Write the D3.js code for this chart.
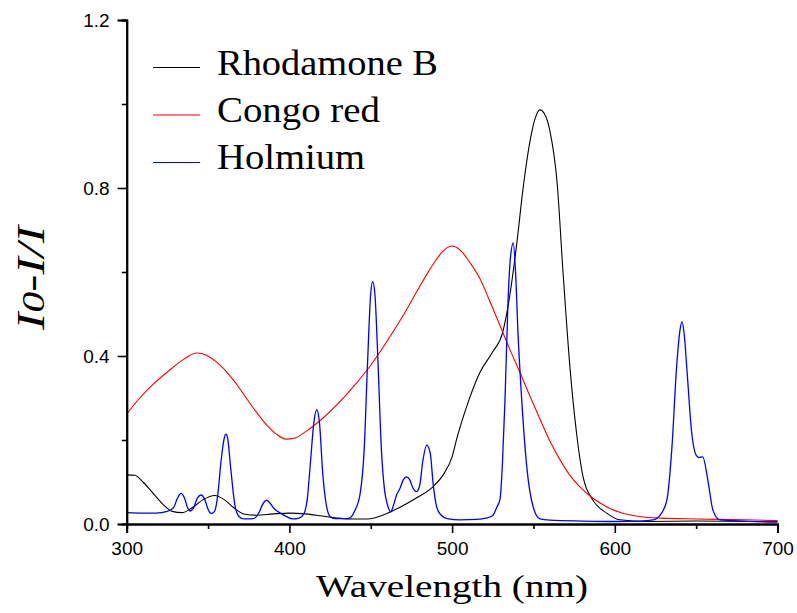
<!DOCTYPE html>
<html>
<head>
<meta charset="utf-8">
<script src="https://cdn.jsdelivr.net/npm/d3@7"></script>
<style>
  html, body { margin: 0; padding: 0; background: #fff; }
  svg { display: block; }
  .serif { font-family: "Liberation Serif", "Times New Roman", Tinos, Times, serif; }
  .sans { font-family: "Liberation Sans", Arial, Arimo, Helvetica, sans-serif; }
</style>
</head>
<body>
<svg id="chart" width="797" height="613"></svg>
<script>
// ---- Data (wavelength nm, value) ----
const rhodamineWl = [300,305,310,316,322,328,334,340,347,354,360,366,372,380,390,400,410,420,430,440,448,458,468,478,488,495,500,503,509,517,525,531,535,540,543.5,548,551,554,557,560,564.6,568,572.5,576.5,580.5,586.5,595,603,620,650,700];
const rhodamineVal = [0.117,0.116,0.100,0.074,0.048,0.030,0.027,0.038,0.058,0.068,0.058,0.038,0.024,0.021,0.024,0.026,0.024,0.019,0.014,0.012,0.012,0.022,0.040,0.062,0.088,0.120,0.160,0.205,0.280,0.360,0.410,0.455,0.533,0.676,0.795,0.914,0.965,0.986,0.975,0.938,0.810,0.610,0.370,0.216,0.112,0.057,0.026,0.010,0.006,0.007,0.005];

const congoWl = [300,308,316,325,335,343,349,356,363,369,374,379,385,392,398,403,410,420,430,440,450,460,470,480,485,490,494,497,499.5,502,506,511,517,523,529.5,535,541.8,548,554,560,566,572,578.7,585,591,597,603,615,628,650,680,700];
const congoVal = [0.262,0.300,0.332,0.362,0.392,0.407,0.402,0.383,0.355,0.325,0.297,0.270,0.240,0.214,0.202,0.204,0.220,0.250,0.287,0.330,0.378,0.435,0.497,0.565,0.598,0.628,0.648,0.658,0.662,0.660,0.648,0.622,0.585,0.532,0.472,0.420,0.360,0.303,0.250,0.198,0.155,0.118,0.088,0.066,0.050,0.037,0.028,0.018,0.014,0.012,0.010,0.008];

const holmiumWl = [300,310,318,325,329,331,333.4,335.5,337.5,339,341,343.5,345.7,348,350,352,354,356,358,360,361,362,364,366.5,369,372,378,381,384,386,388,391,394,398,402,406,409,411,413,415,416.8,418.5,420.5,422.5,425,428,436,440,443.5,446,448,450,451.2,452.5,454.5,456.5,458.5,460,462.3,464,466,468,470,472,474,476,478,480,482,484.4,486.5,488.5,490.5,493,497,505,515,521,525,527.5,529.5,531,532.5,534.4,536,537.6,539,540.5,542.8,545.9,549.8,554,560,580,600,615,623.6,628,632,635,638,640,641.3,642.7,644.2,647.3,650.3,652,654,657.5,660.3,664.6,680,700];
const holmiumVal = [0.027,0.026,0.026,0.030,0.040,0.060,0.073,0.062,0.038,0.031,0.038,0.062,0.069,0.058,0.035,0.025,0.030,0.070,0.150,0.205,0.214,0.205,0.130,0.045,0.018,0.012,0.013,0.025,0.050,0.057,0.050,0.035,0.027,0.018,0.012,0.014,0.025,0.060,0.150,0.240,0.272,0.240,0.120,0.050,0.018,0.013,0.013,0.030,0.073,0.180,0.380,0.550,0.577,0.550,0.380,0.180,0.080,0.050,0.029,0.045,0.070,0.085,0.105,0.112,0.105,0.085,0.077,0.090,0.150,0.188,0.170,0.090,0.041,0.022,0.013,0.010,0.011,0.014,0.020,0.040,0.060,0.150,0.295,0.533,0.640,0.669,0.600,0.455,0.295,0.136,0.041,0.012,0.009,0.007,0.006,0.007,0.010,0.022,0.057,0.176,0.375,0.460,0.482,0.450,0.375,0.216,0.162,0.158,0.160,0.097,0.033,0.010,0.007,0.005];

const seriesNames = ["Rhodamone B", "Congo red", "Holmium"];
const xMajorTicks = [300, 400, 500, 600, 700];
const xMinorTicks = [350, 450, 550, 650];
const yMajorTicks = [0.0, 0.4, 0.8, 1.2];
const yMinorTicks = [0.2, 0.6, 1.0];

// ---- Layout ----
const svg = d3.select("#chart");
const x = d3.scaleLinear().domain([300, 700]).range([126.7, 777.5]);
const y = d3.scaleLinear().domain([0, 1.2]).range([524, 20]);

const series = [
  { name: seriesNames[0], wl: rhodamineWl, val: rhodamineVal, color: "#000000", width: 1.1 },
  { name: seriesNames[1], wl: congoWl, val: congoVal, color: "#ff0000", width: 1.1 },
  { name: seriesNames[2], wl: holmiumWl, val: holmiumVal, color: "#0000ff", width: 1.3 }
];

const line = d3.line()
  .x(d => x(d[0]))
  .y(d => y(d[1]))
  .curve(d3.curveMonotoneX);

series.forEach(s => {
  const pts = s.wl.map((w, i) => [w, s.val[i]]);
  svg.append("path")
    .datum(pts)
    .attr("fill", "none")
    .attr("stroke", s.color)
    .attr("stroke-width", s.width)
    .attr("stroke-linejoin", "round")
    .attr("d", line);
});

// ---- Axes ----
function styleAxis(g) {
  g.attr("font-family", null).attr("font-size", null);
  g.select(".domain").attr("stroke", "#000").attr("stroke-width", 2);
  g.selectAll(".tick line").attr("stroke", "#000").attr("stroke-width", 1.6);
  g.selectAll(".tick text")
    .attr("fill", "#000")
    .attr("class", "sans")
    .style("font-size", "19px");
}

svg.append("g")
  .attr("transform", `translate(0,${y(0)})`)
  .call(d3.axisBottom(x).tickValues(xMinorTicks).tickSize(5).tickFormat(""))
  .call(styleAxis);
svg.append("g")
  .attr("transform", `translate(0,${y(0)})`)
  .call(d3.axisBottom(x).tickValues(xMajorTicks).tickSize(9).tickPadding(9).tickFormat(d3.format("d")))
  .call(styleAxis);

svg.append("g")
  .attr("transform", `translate(${x(300)},0)`)
  .call(d3.axisLeft(y).tickValues(yMinorTicks).tickSize(5).tickFormat(""))
  .call(styleAxis);
svg.append("g")
  .attr("transform", `translate(${x(300)},0)`)
  .call(d3.axisLeft(y).tickValues(yMajorTicks).tickSize(9).tickPadding(8).tickFormat(d3.format(".1f")))
  .call(styleAxis);

// ---- Axis titles ----
svg.append("text")
  .attr("class", "serif")
  .attr("x", 452)
  .attr("y", 597)
  .attr("text-anchor", "middle")
  .attr("textLength", 272)
  .attr("lengthAdjust", "spacingAndGlyphs")
  .style("font-size", "32px")
  .attr("fill", "#000")
  .text("Wavelength (nm)");

const yt = svg.append("text")
  .attr("class", "serif")
  .attr("transform", "translate(44,278) rotate(-90)")
  .attr("text-anchor", "middle")
  .attr("textLength", 104)
  .attr("lengthAdjust", "spacingAndGlyphs")
  .style("font-style", "italic")
  .style("font-size", "39px")
  .attr("fill", "#000");
yt.append("tspan").text("I");
yt.append("tspan").style("font-size", "32px").text("0");
yt.append("tspan").text("-I/I");

// ---- Legend ----
const legendY = [67.5, 115, 162.5];
const legendBase = [75, 122, 169];
const legendLen = [221, 163, 148];
series.forEach((s, i) => {
  svg.append("line")
    .attr("x1", 153).attr("x2", 200)
    .attr("y1", legendY[i]).attr("y2", legendY[i])
    .attr("stroke", s.color)
    .attr("stroke-width", 1.1);
  svg.append("text")
    .attr("class", "serif")
    .attr("x", 217)
    .attr("y", legendBase[i])
    .attr("textLength", legendLen[i])
    .attr("lengthAdjust", "spacingAndGlyphs")
    .style("font-size", "35px")
    .attr("fill", "#000")
    .text(s.name);
});
</script>
</body>
</html>
